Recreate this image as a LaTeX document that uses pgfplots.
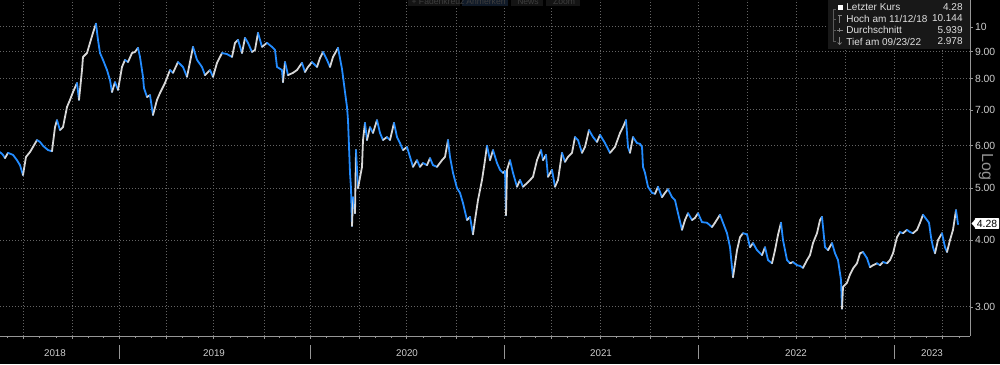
\documentclass[border=0pt]{standalone}
\usepackage{fontspec}
\setmainfont{Liberation Sans}
\newfontfamily\symfont{DejaVu Sans}
\usepackage{pgfplots}
\pgfplotsset{compat=1.18}
\definecolor{bbblue}{RGB}{35,140,255}
\definecolor{bbwhite}{RGB}{215,215,215}
\definecolor{gridc}{RGB}{100,100,100}
\definecolor{txtc}{RGB}{205,205,205}
\definecolor{spine}{RGB}{150,150,150}
\definecolor{boxc}{RGB}{24,24,24}
\definecolor{btn}{RGB}{20,20,20}
\definecolor{btnb}{RGB}{16,26,40}
\definecolor{btntxt}{RGB}{62,62,62}
\begin{document}
\begin{tikzpicture}
\fill[black] (0pt,0pt) rectangle (500pt,-182pt);
\begin{axis}[
  at={(0pt,-168pt)}, anchor=south west,
  width=485pt, height=168pt, scale only axis,
  xmin=0, xmax=970,
  ymode=log, ymin=2.648, ymax=11.23,
  axis x line*=bottom, axis y line*=right,
  axis line style={-, draw=spine, line width=0.5pt},
  xtick={23,72.5,119.3,166.7,213.5,264,310.5,359.3,406.7,456.7,504,551.7,600,650,698.3,747.3,796,845.7,894,942.7},
  xticklabels={},
  minor xtick={7,39.5,56,88.1,103.7,135.1,150.9,182.3,197.9,230.3,247.2,279.5,295,326.8,343,375.1,390.9,423.4,440,472.5,488.2,519.9,535.8,567.8,583.9,616.7,633.3,666.1,682.2,714.6,731,763.5,779.8,812.6,829.1,861.8,877.9,910.2,926.5,958.9},
  ytick={3,4,5,6,7,8,9,10},
  yticklabels={3.00,4.00,5.00,6.00,7.00,8.00,9.00,10},
  tick align=outside,
  major tick length=1.5pt, minor tick length=1pt,
  tick style={draw=spine, line width=0.4pt},
  grid=major,
  major grid style={draw=gridc, line width=0.5pt, dash pattern=on 0.7pt off 0.8pt},
  yticklabel style={font=\fontsize{5.2}{6}\selectfont, text=txtc, inner sep=0.8pt},
  /pgf/number format/assume math mode=true,
  point meta min=0, point meta max=1,
  colormap={bw}{rgb255(0)=(215,215,215) rgb255(1)=(35,140,255)},
]
\addplot[mesh, shader=flat corner, point meta=explicit, line width=0.9pt, line cap=round] table[x=x,y=y,meta=c]{
x y c
0 5.84 1
3 5.77 1
5 5.69 0
8 5.82 1
13 5.77 1
17 5.64 1
20 5.52 1
23 5.29 0
26 5.72 0
30 5.84 0
33 5.97 0
37 6.15 1
40 6.10 1
43 6.00 1
48 5.89 1
52 5.86 0
53 6.07 0
55 6.50 0
57 6.70 1
60 6.42 0
63 6.50 0
65 6.79 0
67 7.09 0
70 7.31 0
73 7.56 0
77 7.86 1
79 7.31 0
82 8.31 0
83 8.79 0
87 8.94 0
90 9.34 0
93 9.75 0
96 10.144 1
98 9.46 1
100 8.94 1
103 8.68 1
107 8.31 1
110 7.96 1
112 7.56 0
115 7.89 1
118 7.63 0
122 8.42 0
125 8.68 1
128 8.60 0
132 8.94 0
135 8.98 0
138 9.14 1
140 8.79 1
143 8.07 1
144 7.69 1
147 7.40 0
150 7.46 1
153 6.85 0
157 7.31 0
160 7.53 0
165 7.86 0
170 8.31 1
173 8.21 0
178 8.60 1
183 8.42 1
187 8.07 0
190 8.60 0
193 9.18 1
197 8.68 1
202 8.42 1
205 8.13 0
210 8.31 1
213 8.07 0
217 8.57 0
222 8.94 1
227 8.90 1
232 8.79 0
235 9.34 0
238 9.46 1
242 8.94 0
245 9.54 1
248 9.34 1
252 8.98 0
255 9.06 0
258 9.75 1
262 9.18 0
267 9.34 1
272 9.18 1
275 9.06 1
277 8.42 1
282 8.31 1
283 7.89 0
285 8.60 1
288 8.13 0
293 8.21 0
297 8.31 0
302 8.57 1
305 8.24 0
308 8.42 0
312 8.60 1
317 8.42 0
320 8.75 0
323 8.98 1
327 8.68 1
330 8.42 0
333 8.79 0
338 9.14 1
342 8.35 1
345 7.56 1
347 7.09 1
348 6.70 1
350 5.34 1
351 5.00 1
352 4.25 0
353 4.81 1
355 4.49 0
356 5.89 1
358 5.00 0
362 5.48 0
363 6.15 0
365 6.62 1
367 6.15 0
370 6.50 1
373 6.34 0
377 6.70 1
380 6.34 1
383 6.15 0
387 6.23 1
390 6.15 0
394 6.62 1
397 6.23 1
400 6.07 1
403 5.89 0
407 5.97 1
410 5.72 1
413 5.48 0
417 5.64 1
420 5.48 0
423 5.57 1
427 5.52 0
430 5.69 1
433 5.52 1
437 5.48 0
442 5.64 0
445 5.72 0
448 6.15 1
450 5.72 1
453 5.34 1
457 5.00 1
460 4.90 1
463 4.69 1
467 4.36 0
470 4.42 1
473 4.10 0
475 4.36 0
478 4.75 0
482 5.18 0
484 5.48 0
487 6.00 1
490 5.64 0
493 5.89 1
497 5.57 1
500 5.41 1
503 5.34 0
505 5.38 1
506 4.45 0
507 5.41 0
510 5.64 1
513 5.34 1
517 5.03 0
520 5.18 1
523 5.03 0
528 5.13 0
533 5.25 0
537 5.64 0
541 5.89 1
543 5.64 0
546 5.77 1
548 5.25 0
552 5.41 1
555 5.03 0
558 5.18 0
562 5.82 1
565 5.60 0
568 5.72 0
572 5.82 0
575 6.23 1
578 6.15 1
582 5.82 0
585 5.97 0
589 6.42 1
593 6.23 1
597 6.10 0
600 6.29 1
605 6.07 1
610 5.82 0
615 5.97 0
620 6.34 0
623 6.50 0
626 6.70 1
628 5.97 1
630 5.82 0
633 6.23 1
637 6.07 1
640 6.05 1
642 5.97 1
643 5.48 1
645 5.34 1
648 5.03 1
652 4.90 1
655 4.88 0
658 5.03 1
662 4.81 0
665 4.90 0
668 4.98 1
672 4.81 1
675 4.75 1
678 4.49 1
682 4.18 0
685 4.36 0
688 4.49 1
692 4.36 0
695 4.40 0
698 4.49 1
702 4.32 1
707 4.31 1
712 4.23 0
715 4.31 0
720 4.46 1
723 4.31 1
727 4.12 1
730 3.88 1
733 3.41 0
737 3.83 0
740 4.05 0
743 4.12 1
747 4.10 1
750 3.88 0
753 3.95 1
757 3.83 1
762 3.75 0
765 3.88 1
768 3.67 1
772 3.62 0
775 3.83 0
778 4.09 0
781 4.31 1
783 4.00 1
787 3.67 1
790 3.62 0
793 3.64 1
797 3.59 1
800 3.58 1
803 3.55 0
807 3.67 0
810 3.75 0
813 3.95 0
817 4.12 0
820 4.36 0
822 4.42 1
823 4.23 1
825 3.88 1
828 3.83 0
832 3.95 1
835 3.78 1
838 3.67 1
841 3.37 1
842 2.978 0
843 3.27 0
847 3.33 0
850 3.45 0
853 3.54 0
857 3.62 0
860 3.78 0
863 3.80 1
867 3.70 1
870 3.56 0
873 3.59 0
877 3.62 1
880 3.59 0
883 3.64 1
887 3.62 0
890 3.67 0
893 3.78 0
897 4.05 0
900 4.14 1
903 4.12 0
907 4.18 1
910 4.14 1
913 4.12 0
917 4.18 0
920 4.31 0
923 4.46 1
927 4.36 1
929 4.31 1
931 4.05 1
933 3.88 1
935 3.78 0
938 4.00 0
942 4.12 1
945 3.88 1
947 3.80 0
950 4.00 0
953 4.18 0
956 4.55 1
957 4.42 1
958 4.28 1
};
\end{axis}
\begin{scope}[x=0.5pt,y=-0.5pt]
% toolbar (cut at the top edge)
\fill[btn] (408,-6) rectangle (460,6);
\fill[btnb] (462,-6) rectangle (508,6);
\fill[btn] (511,-6) rectangle (543,6);
\fill[btn] (546,-6) rectangle (580,6);
\begin{scope}[every node/.style={text=btntxt, font=\fontsize{4.3}{5}\selectfont, inner sep=0pt}]
\node at (438,1.5) {+ Fadenkreuz};
\node at (486,1.5) {Anmerken};
\node at (528,1.5) {News};
\node at (564,1.5) {Zoom};
\end{scope}
% legend box
\fill[boxc] (828,-2) rectangle (970,49);
\draw[gray!70!black, line width=0.3pt] (833,9) -- (833,41) (833,19) -- (836,19) (833,30) -- (836,30) (833,41) -- (836,41) (833,9) -- (836,9);
\fill[white] (837.5,4.5) rectangle (843,10);
\draw[gray, line width=0.35pt] (839.5,15.5) -- (839.5,22.5) (837.5,15.5) -- (841.5,15.5);
\draw[gray, line width=0.35pt] (836.5,30) -- (842.5,30) (839.5,28) -- (839.5,32);
\draw[gray, line width=0.35pt] (839.5,37) -- (839.5,44.5) (837.5,42.5) -- (839.5,44.5) -- (841.5,42.5);
\begin{scope}[every node/.style={text=white!88!black, font=\fontsize{5}{6}\selectfont, inner sep=0pt}]
\node[anchor=west] at (846,7) {Letzter Kurs};
\node[anchor=west] at (846,18.5) {Hoch am 11/12/18};
\node[anchor=west] at (846,30) {Durchschnitt};
\node[anchor=west] at (846,41.5) {Tief am 09/23/22};
\node[anchor=east] at (963,7) {4.28};
\node[anchor=east] at (963,18.5) {10.144};
\node[anchor=east] at (963,30) {5.939};
\node[anchor=east] at (963,41.5) {2.978};
\end{scope}
% Log label
\node[rotate=-90, text=gray!85!white, font=\fontsize{8}{9}\selectfont] at (986,167) {Log};
% last price tag
\fill[white] (971.5,223.5) -- (975.5,219) -- (975.5,228) -- cycle;
\node[fill=white, text=black, anchor=west, inner xsep=1pt, inner ysep=0.9pt, font=\fontsize{5.2}{6}\selectfont, rounded corners=0.4pt] at (974.5,223.5) {4.28};
% year separators and labels
\foreach \xs in {119.3,310.5,504,698.3,894} {\draw[spine, line width=0.4pt] (\xs,345) -- (\xs,359);}
\begin{scope}[every node/.style={text=txtc, font=\fontsize{4.9}{6}\selectfont, inner sep=0pt}]
\node at (55,353) {2018};
\node at (214,353) {2019};
\node at (407,353) {2020};
\node at (601,353) {2021};
\node at (796,353) {2022};
\node at (932,353) {2023};
\end{scope}
\pgfresetboundingbox
\path[use as bounding box] (0,0) rectangle (1000,364);
\end{scope}
\end{tikzpicture}
\end{document}
